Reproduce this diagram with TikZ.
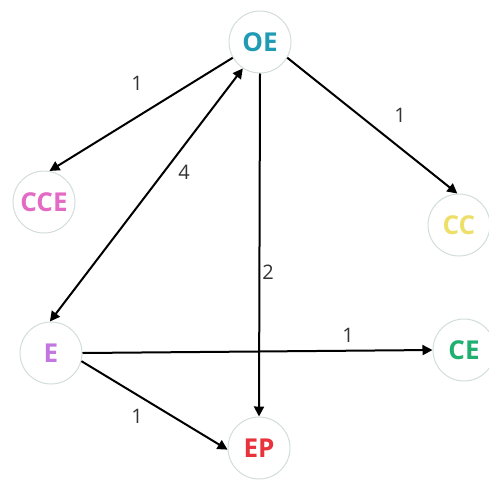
\documentclass[tikz,border=0pt]{standalone}
\usepackage{fontspec}
\setmainfont{Open Sans}
\usetikzlibrary{arrows.meta}
\definecolor{ringc}{HTML}{D3DED9}
\definecolor{oec}{HTML}{1F9BB3}
\definecolor{ccec}{HTML}{E46BC4}
\definecolor{ccc}{HTML}{EEDF6A}
\definecolor{ec}{HTML}{C277E0}
\definecolor{cec}{HTML}{1FB070}
\definecolor{epc}{HTML}{E8323C}
\definecolor{labc}{HTML}{333333}
\tikzset{
  state/.style={circle, draw=ringc, line width=1pt, fill=white, minimum size=62pt, inner sep=0pt,
    font=\fontsize{26}{28}\selectfont\bfseries},
  edge/.style={line width=2pt, draw=black, -{Triangle[length=10pt,width=10pt]}},
  bedge/.style={line width=2pt, draw=black, {Triangle[length=10pt,width=10pt]}-{Triangle[length=10pt,width=10pt]}},
  elabel/.style={text=labc, font=\fontsize{20}{22}\selectfont, inner sep=0pt}
}
\begin{document}
\begin{tikzpicture}[x=1pt,y=-1pt]
\useasboundingbox (0,0) rectangle (489,479);
\node[state, text=oec] (OE) at (260,42) {OE};
\node[state, text=ccec] (CCE) at (44,202) {CCE};
\node[state, text=ccc] (CC) at (459,225) {CC};
\node[state, text=ec] (E) at (51,353) {E};
\node[state, text=cec] (CE) at (464,350) {CE};
\node[state, text=epc] (EP) at (259,448) {EP};

\draw[edge] (OE.210) -- (CCE.80);
\draw[edge] (OE.-30) -- (CC.93);
\draw[bedge] (E.92) -- (OE.237);
\draw[edge] (OE.south) -- (EP.north);
\draw[edge] (E.east) -- (CE.west);
\draw[edge] (E.-15) -- (EP.183);

\node[elabel] (l1) at (137,83) {1};
\node[elabel] (l2) at (400,115) {1};
\node[elabel] (l3) at (184,172) {4};
\node[elabel] (l4) at (268,272) {2};
\node[elabel] (l5) at (348,335) {1};
\node[elabel] (l6) at (137,416) {1};
\end{tikzpicture}
\end{document}
